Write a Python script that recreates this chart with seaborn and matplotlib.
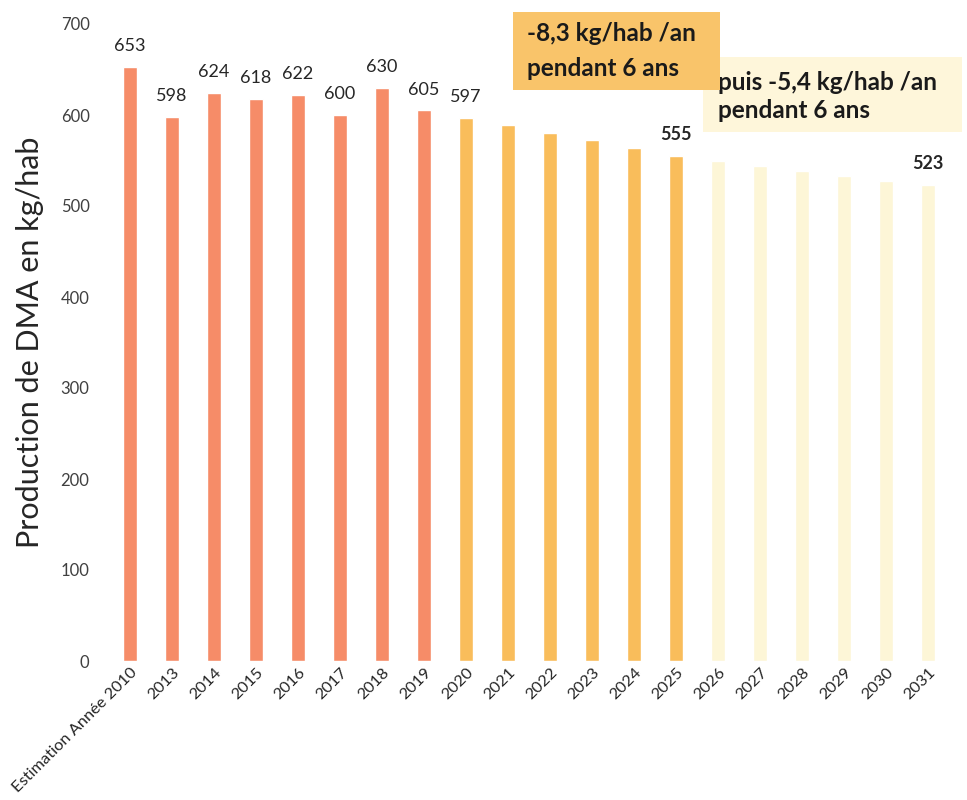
import matplotlib
matplotlib.use("Agg")
import matplotlib.pyplot as plt
from matplotlib.patches import Rectangle
import seaborn as sns
import pandas as pd

# Household waste production (DMA) per inhabitant, observed then targeted
categories = ["Estimation Année 2010", "2013", "2014", "2015", "2016", "2017",
              "2018", "2019", "2020", "2021", "2022", "2023", "2024", "2025",
              "2026", "2027", "2028", "2029", "2030", "2031"]
values = [653, 598, 624, 618, 622, 600, 630, 605, 597, 589, 580, 572, 564,
          555, 550, 544, 539, 533, 528, 523]
phases = ["Observé"] * 8 + ["Objectif 1"] * 6 + ["Objectif 2"] * 6
# which bars carry a value label, and whether it is bold
label_shown = [True] * 9 + [False] * 4 + [True] + [False] * 5 + [True]
label_bold = [False] * 9 + [False] * 4 + [True] + [False] * 5 + [True]
yticks = [0, 100, 200, 300, 400, 500, 600, 700]

palette = {"Observé": "#F68C68", "Objectif 1": "#F9BD5B", "Objectif 2": "#FDF6D7"}

df = pd.DataFrame({"annee": categories, "dma": values, "phase": phases})

sns.set_theme(style="white")
plt.rcParams["font.family"] = ["Lato", "DejaVu Sans"]

fig = plt.figure(figsize=(9.67, 8.0), dpi=100)
ax = fig.add_axes([0.1127, 0.17375, 0.8686, 0.79625])

sns.barplot(data=df, x="annee", y="dma", hue="phase", palette=palette,
            order=categories, dodge=False, width=0.33, legend=False,
            saturation=1, ax=ax)

for i, (v, show, bold) in enumerate(zip(values, label_shown, label_bold)):
    if show:
        ax.text(i, v + 14, str(v), ha="center", va="bottom",
                fontsize=13, color="#262626",
                fontweight="bold" if bold else "normal")

ax.set_xlim(-0.5, len(categories) - 0.5)
ax.set_ylim(0, 700)
ax.set_yticks(yticks)
ax.set_yticklabels([str(t) for t in yticks], fontsize=12, color="#404040")
ax.tick_params(axis="y", length=0, pad=14)
ax.tick_params(axis="x", length=0, pad=3)
ax.set_xticks(range(len(categories)))
ax.set_xticklabels(categories, rotation=45, ha="right", rotation_mode="anchor",
                   fontsize=11.8, color="#262626")
ax.set_xlabel("")
ax.set_ylabel("Production de DMA en kg/hab", fontsize=22, color="#262626",
              labelpad=12)
for s in ax.spines.values():
    s.set_visible(False)

# Reduction target boxes
fig.add_artist(Rectangle((0.727, 0.835), 0.268, 0.094, transform=fig.transFigure,
                         facecolor="#FEF6DA", edgecolor="none", zorder=3))
fig.text(0.7425, 0.897, "puis -5,4 kg/hab /an", fontsize=17.5, fontweight="bold",
         color="#1A1A1A", va="center", ha="left", zorder=4)
fig.text(0.7425, 0.862, "pendant 6 ans", fontsize=17.5, fontweight="bold",
         color="#1A1A1A", va="center", ha="left", zorder=4)

fig.add_artist(Rectangle((0.5305, 0.8875), 0.214, 0.0975, transform=fig.transFigure,
                         facecolor="#F9C46A", edgecolor="none", zorder=5))
fig.text(0.545, 0.958, "-8,3 kg/hab /an", fontsize=17.5, fontweight="bold",
         color="#1A1A1A", va="center", ha="left", zorder=6)
fig.text(0.545, 0.915, "pendant 6 ans", fontsize=17.5, fontweight="bold",
         color="#1A1A1A", va="center", ha="left", zorder=6)

fig.savefig("out.png", dpi=100, facecolor="white")
